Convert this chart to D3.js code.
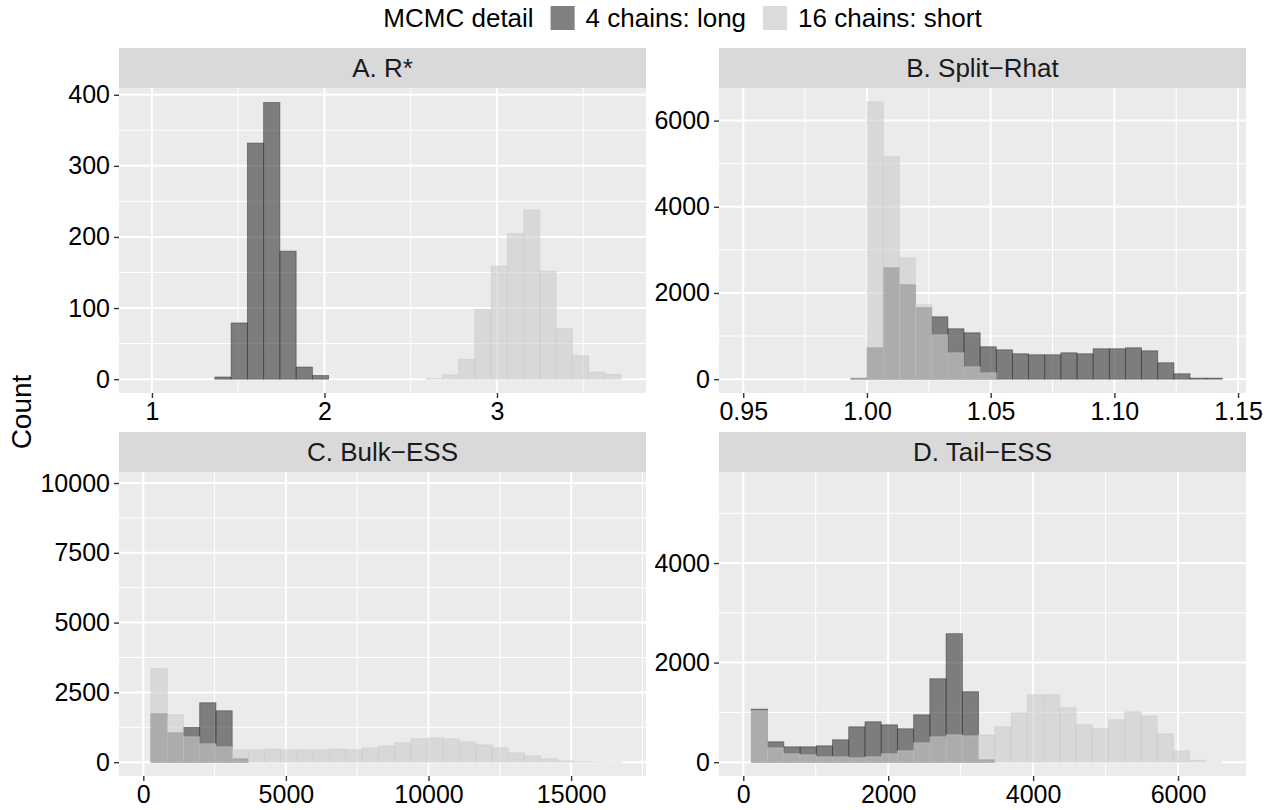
<!DOCTYPE html>
<html>
<head>
<meta charset="utf-8">
<script src="https://cdn.jsdelivr.net/npm/d3@7"></script>
<style>
  body { margin: 0; background: #fff; }
  svg text { font-family: "Liberation Sans", Arial, Helvetica, sans-serif; }
</style>
</head>
<body>
<svg id="chart" width="1273" height="810"></svg>
<script>
const seriesNames = ["4 chains: long", "16 chains: short"];
const panelTitles = ["A. R*", "B. Split\u2212Rhat", "C. Bulk\u2212ESS", "D. Tail\u2212ESS"];

// histogram bins: left edge of the first bin and the bin width, per panel
const binStart = [0.988, 0.9544, 269, 111.5];
const binWidth = [0.0942, 0.006525, 569.5, 224];
// axis ranges
const xRangeA = [0.809, 3.864];
const xRangeB = [0.9402, 1.1532];
const xRangeC = [-852, 17626];
const xRangeD = [-335, 6938];
// top of each panel's count range (before ggplot-style expansion)
const countMax = [390, 6435, 9900, 5551];

const longA  = [0,0,0,0,3,79,332,389,180,17,5,0,0,0,0,0,0,0,0,0,0,0,0,0,0,0,0,0,0];
const shortA = [0,0,0,0,0,0,0,0,0,0,0,0,0,0,0,0,0,1,6,28,98,159,205,238,152,71,33,10,7];
const longB  = [0,0,0,0,0,0,20,727,2583,2189,1655,1446,1168,1075,750,680,588,565,565,611,588,704,704,727,657,379,124,23,23];
const shortB = [0,0,0,0,0,0,10,6435,5159,2815,1725,1029,611,286,147,0,0,0,0,0,0,0,0,0,0,0,0,0,0];
const longC  = [1732,1051,1243,2127,1840,120,0,0,0,0,0,0,0,0,0,0,0,0,0,0,0,0,0,0,0,0,0,0,0];
const shortC = [3345,1697,908,657,550,442,442,478,442,442,442,478,442,514,585,693,836,872,836,729,621,514,335,227,120,48,20,10,5];
const longD  = [1065,409,308,308,328,449,710,811,750,670,951,1675,2580,1414,47,0,0,0,0,0,0,0,0,0,0,0,0,0,0];
const shortD = [1032,288,168,147,107,107,87,107,168,228,389,509,549,529,549,710,992,1353,1353,1092,750,670,851,1012,931,569,228,40,5];

const xTicksA = [1, 2, 3];
const xTicksB = [0.95, 1.00, 1.05, 1.10, 1.15];
const xTicksC = [0, 5000, 10000, 15000];
const xTicksD = [0, 2000, 4000, 6000];
const xTickLabelsB = ["0.95", "1.00", "1.05", "1.10", "1.15"];
const yTicksA = [0, 100, 200, 300, 400];
const yTicksB = [0, 2000, 4000, 6000];
const yTicksC = [0, 2500, 5000, 7500, 10000];
const yTicksD = [0, 2000, 4000];

const longCounts = [longA, longB, longC, longD];
const shortCounts = [shortA, shortB, shortC, shortD];
const xRanges = [xRangeA, xRangeB, xRangeC, xRangeD];
const xTicks = [xTicksA, xTicksB, xTicksC, xTicksD];
const yTicks = [yTicksA, yTicksB, yTicksC, yTicksD];
const xFormat = [d3.format("d"), (d, i) => xTickLabelsB[i], d3.format("d"), d3.format("d")];

const fills = ["#333333", "#cccccc"];
const alpha = 0.6;

const colX = [[119, 646], [719, 1246]];
const rowY = [[88, 393], [472, 776]];
const stripH = 40;

const svg = d3.select("#chart");

// minor breaks halfway between majors (extended one step each side)
function minorBreaks(ticks, domain) {
  const step = ticks[1] - ticks[0];
  const ext = [ticks[0] - step, ...ticks, ticks[ticks.length - 1] + step];
  const out = [];
  for (let i = 0; i < ext.length - 1; i++) out.push((ext[i] + ext[i + 1]) / 2);
  return out.filter(v => v >= domain[0] && v <= domain[1]);
}

panelTitles.forEach((title, p) => {
  const [x0, x1] = colX[p % 2];
  const [y0, y1] = rowY[Math.floor(p / 2)];
  const lo = binStart[p];
  const x = d3.scaleLinear().domain(xRanges[p]).range([x0, x1]);
  const y = d3.scaleLinear().domain([-0.05 * countMax[p], 1.05 * countMax[p]]).range([y1, y0]);

  const g = svg.append("g");

  // strip
  g.append("rect").attr("x", x0).attr("y", y0 - stripH).attr("width", x1 - x0).attr("height", stripH)
    .attr("fill", "#d9d9d9");
  g.append("text").attr("x", (x0 + x1) / 2).attr("y", y0 - stripH / 2).attr("dy", "0.36em")
    .attr("text-anchor", "middle").attr("font-size", 26).attr("fill", "#1a1a1a").text(title);

  // panel
  g.append("rect").attr("x", x0).attr("y", y0).attr("width", x1 - x0).attr("height", y1 - y0)
    .attr("fill", "#ebebeb");

  const xMinor = minorBreaks(xTicks[p], x.domain());
  const yMinor = minorBreaks(yTicks[p], y.domain());
  g.append("g").selectAll("line").data(xMinor).join("line")
    .attr("x1", d => x(d)).attr("x2", d => x(d)).attr("y1", y0).attr("y2", y1)
    .attr("stroke", "#fff").attr("stroke-width", 1);
  g.append("g").selectAll("line").data(yMinor).join("line")
    .attr("y1", d => y(d)).attr("y2", d => y(d)).attr("x1", x0).attr("x2", x1)
    .attr("stroke", "#fff").attr("stroke-width", 1);
  g.append("g").selectAll("line").data(xTicks[p]).join("line")
    .attr("x1", d => x(d)).attr("x2", d => x(d)).attr("y1", y0).attr("y2", y1)
    .attr("stroke", "#fff").attr("stroke-width", 2);
  g.append("g").selectAll("line").data(yTicks[p]).join("line")
    .attr("y1", d => y(d)).attr("y2", d => y(d)).attr("x1", x0).attr("x2", x1)
    .attr("stroke", "#fff").attr("stroke-width", 2);

  // bars: long first, short drawn over it
  [longCounts[p], shortCounts[p]].forEach((counts, s) => {
    g.append("g").selectAll("rect").data(counts).join("rect")
      .attr("x", (d, i) => x(lo + i * binWidth[p]))
      .attr("width", (d, i) => x(lo + (i + 1) * binWidth[p]) - x(lo + i * binWidth[p]))
      .attr("y", d => y(d))
      .attr("height", d => y(0) - y(d))
      .attr("fill", fills[s]).attr("fill-opacity", alpha)
      .attr("stroke", fills[s]).attr("stroke-opacity", alpha).attr("stroke-width", 0.8);
  });

  // axes
  const xAxis = d3.axisBottom(x).tickValues(xTicks[p]).tickFormat(xFormat[p]).tickSize(5).tickPadding(4);
  const ax = g.append("g").attr("transform", `translate(0,${y1})`).call(xAxis);
  const yAxis = d3.axisLeft(y).tickValues(yTicks[p]).tickFormat(d3.format("d")).tickSize(5).tickPadding(4);
  const ay = g.append("g").attr("transform", `translate(${x0},0)`).call(yAxis);
  [ax, ay].forEach(a => {
    a.select(".domain").remove();
    a.selectAll(".tick line").attr("stroke", "#333333").attr("stroke-width", 1.4);
    a.selectAll(".tick text").attr("font-size", 25).attr("fill", "#000")
      .attr("font-family", "Liberation Sans, Arial, sans-serif");
  });
});

// y axis title
svg.append("text").attr("transform", "translate(31,412) rotate(-90)")
  .attr("text-anchor", "middle").attr("font-size", 28).attr("fill", "#000").text("Count");

// legend on top, centred over the panels
const leg = svg.append("g");
const legY = 18, keyS = 24;
let cx = 0;
const title = leg.append("text").attr("x", cx).attr("y", legY).attr("dy", "0.36em")
  .attr("font-size", 26).attr("fill", "#000").text("MCMC detail");
cx += title.node().getComputedTextLength() + 17;
seriesNames.forEach((name, s) => {
  leg.append("rect").attr("x", cx).attr("y", legY - keyS / 2).attr("width", keyS).attr("height", keyS)
    .attr("fill", "#f2f2f2");
  leg.append("rect").attr("x", cx).attr("y", legY - keyS / 2).attr("width", keyS).attr("height", keyS)
    .attr("fill", fills[s]).attr("fill-opacity", alpha);
  cx += keyS + 11;
  const t = leg.append("text").attr("x", cx).attr("y", legY).attr("dy", "0.36em")
    .attr("font-size", 26).attr("fill", "#000").text(name);
  cx += t.node().getComputedTextLength() + 17;
});
cx -= 17;
const centre = (colX[0][0] + colX[1][1]) / 2;
leg.attr("transform", `translate(${centre - cx / 2},0)`);
</script>
</body>
</html>
